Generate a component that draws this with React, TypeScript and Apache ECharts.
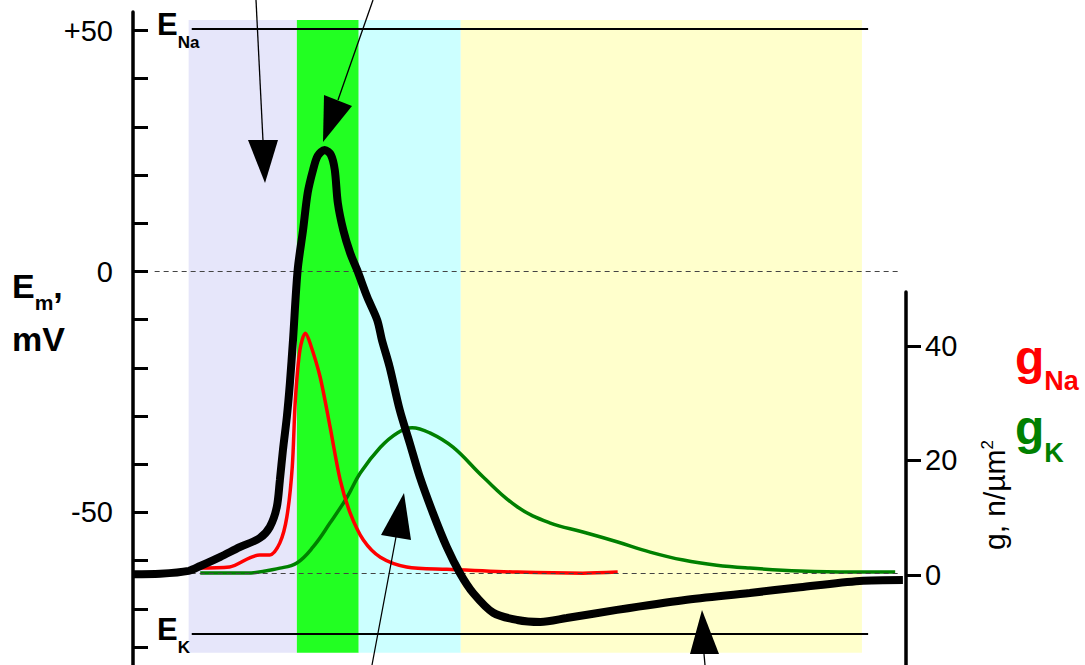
import React, { useEffect, useRef } from "react";
import * as echarts from "echarts";

// ---- data (time in ms, membrane potential in mV, conductance in n/µm²) ----
const emTime = [0, 0.35, 0.72, 0.87, 1.13, 1.38, 1.64, 1.77, 1.86, 1.9, 1.94, 1.99, 2.03, 2.07, 2.13, 2.2, 2.26, 2.33, 2.39, 2.48, 2.56, 2.61, 2.65, 2.72, 2.81, 2.9, 3.03, 3.16, 3.22, 3.32, 3.45, 3.58, 3.71, 3.88, 4.06, 4.23, 4.4, 4.66, 4.97, 5.27, 5.61, 6.26, 7.12, 7.98, 8.63, 9.4, 9.96];
const emMv = [-62.8, -62.7, -62.1, -61.1, -59.2, -57.2, -55.3, -53.0, -48.9, -43.3, -37.0, -30.2, -23.1, -14.2, 0.3, 8.6, 16.3, 21.1, 24.0, 25.2, 24.2, 21.1, 14.2, 8.6, 3.8, 0.3, -5.3, -10.1, -14.2, -19.8, -28.7, -35.6, -42.6, -50.1, -57.2, -62.6, -66.7, -70.8, -72.3, -72.7, -71.9, -70.2, -68.2, -66.7, -65.5, -64.2, -64.0];

const gNaTime = [0.83, 1.25, 1.51, 1.64, 1.77, 1.9, 1.99, 2.06, 2.1, 2.16, 2.23, 2.29, 2.42, 2.55, 2.68, 2.81, 2.98, 3.2, 3.54, 4.06, 4.97, 5.82, 6.27];
const gNaValue = [1.2, 1.4, 3.0, 3.5, 3.5, 5.6, 10.1, 18.8, 30.5, 39.3, 42.2, 40.5, 34.6, 25.8, 16.6, 10.8, 6.1, 3.1, 1.4, 1.0, 0.5, 0.3, 0.5];

const gKTime = [0.87, 1.47, 1.9, 2.12, 2.33, 2.55, 2.77, 2.94, 3.2, 3.42, 3.61, 3.84, 4.14, 4.53, 4.97, 5.39, 5.82, 6.26, 6.69, 7.12, 7.55, 7.98, 8.63, 9.28, 9.86];
const gKValue = [0.35, 0.35, 1.2, 2.1, 4.9, 9.1, 13.6, 17.8, 22.3, 24.8, 25.7, 24.8, 22.3, 17.1, 11.9, 9.1, 7.5, 5.8, 4.0, 2.6, 1.7, 1.2, 0.7, 0.5, 0.5];

const phaseStart = [0.72, 2.12, 2.92, 4.24];
const phaseEnd = [2.12, 2.92, 4.24, 9.43];
const phaseColors = ["#e6e6fa", "#22ff22", "#ccffff", "#ffffcc"];
const phaseTopMv = 52.2;
const phaseBottomMv = -79.1;

const eNaMv = 50.3;
const eKMv = -75.1;
const restMv = -62.6;
const refLineStart = 0.76;
const refLineEnd = 9.51;
const dashStart = 0.28;
const dashEnd = 9.92;

const mvTicks = [50, 40, 30, 20, 10, 0, -10, -20, -30, -40, -50, -60, -70, -78];
const mvLabels = [50, 0, -50];
const gTicks = [0, 20, 40];

const FONT = "Liberation Sans, Arial, Helvetica, sans-serif";

export default function App() {
  const ref = useRef<HTMLDivElement>(null);
  useEffect(() => {
    if (!ref.current) return;
    const chart = echarts.init(ref.current, null, { renderer: "svg" });
    const zip = (a: number[], b: number[]) => a.map((t, i) => [t, b[i]]);

    const arrow = (lx1: number, ly1: number, lx2: number, ly2: number, pts: number[][]) => [
      { type: "line", silent: true, z: 100, shape: { x1: lx1, y1: ly1, x2: lx2, y2: ly2 }, style: { stroke: "#000", lineWidth: 1.3 } },
      { type: "polygon", silent: true, z: 100, shape: { points: pts }, style: { fill: "#000" } },
    ];

    const option: any = {
      animation: false,
      backgroundColor: "#fff",
      grid: [
        { left: 133, right: 179, top: 12, bottom: 0, containLabel: false, outerBoundsMode: "none" },
        { left: 133, right: 179, top: 292, bottom: 0, containLabel: false, outerBoundsMode: "none" },
      ],
      xAxis: [
        { type: "value", gridIndex: 0, min: 0, max: 10, show: false },
        { type: "value", gridIndex: 1, min: 0, max: 10, show: false },
      ],
      yAxis: [
        {
          type: "value",
          gridIndex: 0,
          position: "left",
          min: -81.64,
          max: 53.84,
          splitLine: { show: false },
          axisLine: { show: true, onZero: false, lineStyle: { color: "#000", width: 3.5 } },
          axisTick: { show: true, inside: true, length: 15, lineStyle: { color: "#000", width: 3 }, customValues: mvTicks },
          axisLabel: {
            show: true,
            customValues: mvLabels,
            formatter: (v: number) => (v > 0 ? "+" + v : String(v)),
            color: "#000",
            fontSize: 29,
            fontFamily: FONT,
            margin: 20,
          },
        },
        {
          type: "value",
          gridIndex: 1,
          position: "right",
          min: -15.71,
          max: 49.39,
          splitLine: { show: false },
          axisLine: { show: true, onZero: false, lineStyle: { color: "#000", width: 3.5 } },
          axisTick: { show: true, inside: false, length: 15, lineStyle: { color: "#000", width: 3 }, customValues: gTicks },
          axisLabel: { show: true, customValues: gTicks, color: "#000", fontSize: 29, fontFamily: FONT, margin: 19 },
        },
      ],
      series: [
        {
          name: "phases",
          type: "line",
          xAxisIndex: 0,
          yAxisIndex: 0,
          data: [],
          z: 1,
          silent: true,
          markArea: {
            silent: true,
            label: { show: false },
            data: phaseStart.map((s, i) => [
              { xAxis: s, yAxis: phaseTopMv, itemStyle: { color: phaseColors[i], opacity: 1 } },
              { xAxis: phaseEnd[i], yAxis: phaseBottomMv },
            ]),
          },
        },
        {
          name: "reference",
          type: "line",
          xAxisIndex: 0,
          yAxisIndex: 0,
          data: [],
          z: 2,
          silent: true,
          markLine: {
            silent: true,
            symbol: "none",
            label: { show: false },
            data: [
              [
                { coord: [refLineStart, eNaMv], lineStyle: { color: "#000", width: 2, type: "solid" } },
                { coord: [refLineEnd, eNaMv] },
              ],
              [
                { coord: [refLineStart, eKMv], lineStyle: { color: "#000", width: 2, type: "solid" } },
                { coord: [refLineEnd, eKMv] },
              ],
              [
                { coord: [dashStart, 0], lineStyle: { color: "#444", width: 1.2, type: [5, 4] } },
                { coord: [dashEnd, 0] },
              ],
              [
                { coord: [dashStart, restMv], lineStyle: { color: "#444", width: 1.2, type: [5, 4] } },
                { coord: [dashEnd, restMv] },
              ],
            ],
          },
        },
        {
          name: "gK",
          type: "line",
          xAxisIndex: 1,
          yAxisIndex: 1,
          data: zip(gKTime, gKValue),
          showSymbol: false,
          smooth: 0.4,
          z: 3,
          lineStyle: { color: "#008000", width: 3.5 },
        },
        {
          name: "gNa",
          type: "line",
          xAxisIndex: 1,
          yAxisIndex: 1,
          data: zip(gNaTime, gNaValue),
          showSymbol: false,
          smooth: 0.3,
          z: 4,
          lineStyle: { color: "#ff0000", width: 3.5 },
        },
        {
          name: "Em",
          type: "line",
          xAxisIndex: 0,
          yAxisIndex: 0,
          data: zip(emTime, emMv),
          showSymbol: false,
          smooth: 0.3,
          z: 5,
          lineStyle: { color: "#000", width: 8 },
        },
      ],
      graphic: [
        // E_Na label
        {
          type: "text",
          x: 157,
          y: 9,
          z: 100,
          silent: true,
          style: {
            text: "{e|E}{s|Na}",
            verticalAlign: "top",
            rich: {
              e: { fontSize: 31, fontWeight: "bold", fontFamily: FONT, lineHeight: 31, verticalAlign: "top", fill: "#000" },
              s: { fontSize: 17, fontWeight: "bold", fontFamily: FONT, lineHeight: 17, verticalAlign: "top", padding: [25, 0, 0, 0], fill: "#000" },
            },
          },
        },
        // E_K label
        {
          type: "text",
          x: 157,
          y: 614,
          z: 100,
          silent: true,
          style: {
            text: "{e|E}{s|K}",
            verticalAlign: "top",
            rich: {
              e: { fontSize: 31, fontWeight: "bold", fontFamily: FONT, lineHeight: 31, verticalAlign: "top", fill: "#000" },
              s: { fontSize: 17, fontWeight: "bold", fontFamily: FONT, lineHeight: 17, verticalAlign: "top", padding: [25, 0, 0, 0], fill: "#000" },
            },
          },
        },
        // Em, mV label
        {
          type: "text",
          x: 12,
          y: 269,
          z: 100,
          silent: true,
          style: {
            text: "{e|E}{s|m}{e|,}",
            verticalAlign: "top",
            rich: {
              e: { fontSize: 34, fontWeight: "bold", fontFamily: FONT, lineHeight: 34, verticalAlign: "top", fill: "#000" },
              s: { fontSize: 21, fontWeight: "bold", fontFamily: FONT, lineHeight: 21, verticalAlign: "top", padding: [23, 0, 0, 0], fill: "#000" },
            },
          },
        },
        {
          type: "text",
          x: 12,
          y: 322,
          z: 100,
          silent: true,
          style: {
            text: "{e|mV}",
            verticalAlign: "top",
            rich: {
              e: { fontSize: 34, fontWeight: "bold", fontFamily: FONT, lineHeight: 34, verticalAlign: "top", fill: "#000" },
            },
          },
        },
        // right axis name
        {
          type: "text",
          x: 994,
          y: 495,
          z: 100,
          rotation: Math.PI / 2,
          silent: true,
          style: {
            text: "{a|g, n/µm}{s|2}",
            align: "center",
            verticalAlign: "middle",
            rich: {
              a: { fontSize: 30, fontFamily: FONT, lineHeight: 30, verticalAlign: "top", fill: "#000" },
              s: { fontSize: 17, fontFamily: FONT, lineHeight: 17, verticalAlign: "top", fill: "#000" },
            },
          },
        },
        // gNa / gK legend
        {
          type: "text",
          x: 1015,
          y: 333,
          z: 100,
          silent: true,
          style: {
            text: "{g|g}{s|Na}",
            verticalAlign: "top",
            rich: {
              g: { fontSize: 48, fontWeight: "bold", fontFamily: FONT, lineHeight: 48, verticalAlign: "top", fill: "#ff0000" },
              s: { fontSize: 27, fontWeight: "bold", fontFamily: FONT, lineHeight: 27, verticalAlign: "top", padding: [34, 0, 0, 0], fill: "#ff0000" },
            },
          },
        },
        {
          type: "text",
          x: 1015,
          y: 403,
          z: 100,
          silent: true,
          style: {
            text: "{g|g}{s|K}",
            verticalAlign: "top",
            rich: {
              g: { fontSize: 48, fontWeight: "bold", fontFamily: FONT, lineHeight: 48, verticalAlign: "top", fill: "#008000" },
              s: { fontSize: 27, fontWeight: "bold", fontFamily: FONT, lineHeight: 27, verticalAlign: "top", padding: [36, 0, 0, 0], fill: "#008000" },
            },
          },
        },
        // annotation arrows
        ...arrow(256, 0, 263, 141, [[248, 140], [278, 140], [265, 183]]),
        ...arrow(373, 0, 338, 100, [[324, 95], [352, 106], [323, 142]]),
        ...arrow(372, 665, 396, 537, [[381, 535], [411, 540], [404, 493]]),
        ...arrow(705, 665, 704, 654, [[690, 654], [719, 654], [702, 610]]),
      ],
    };
    chart.setOption(option);
    return () => chart.dispose();
  }, []);
  return (
    <div
      ref={ref}
      style={{ position: "fixed", left: 0, top: 0, width: 1085, height: 665 }}
    />
  );
}
